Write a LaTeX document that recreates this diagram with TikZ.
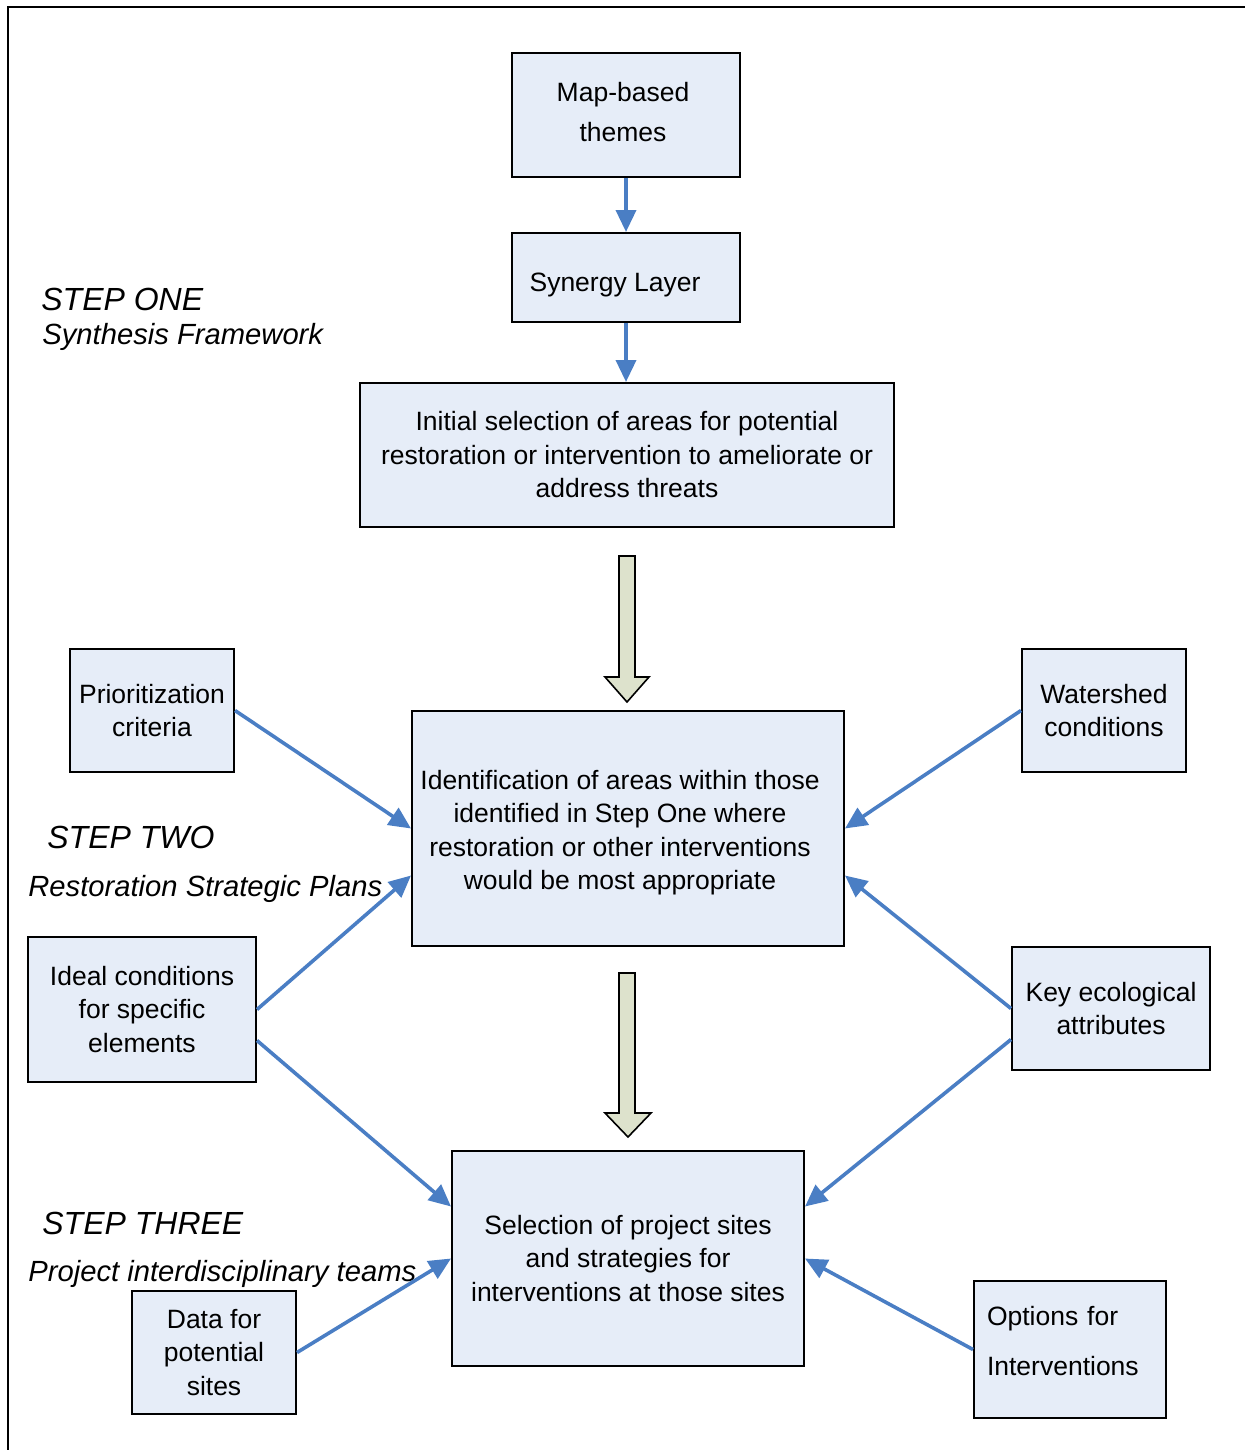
\documentclass[tikz,border=0pt]{standalone}
\usepackage{fontspec}
\setmainfont{Liberation Sans}
\usepackage{xcolor}
\usetikzlibrary{calc, arrows.meta}
\definecolor{boxfill}{RGB}{230,237,248}
\definecolor{linkblue}{RGB}{74,126,196}
\definecolor{bigfill}{RGB}{221,226,204}

\begin{document}
\begin{tikzpicture}[x=0.5pt, y=-0.5pt,
    box/.style={draw, line width=1pt, fill=boxfill, inner sep=0pt, align=center,
        font=\fontsize{13.25}{16.75}\selectfont},
    boxtext/.style={inner sep=0pt, align=center, font=\fontsize{13.25}{16.75}\selectfont},
    link/.style={draw=linkblue, line width=1.8pt, -{Triangle[length=11pt, width=10pt]}},
    steptitle/.style={anchor=base west, inner sep=0pt, font=\fontsize{16}{19}\selectfont\itshape},
    stepsub/.style={anchor=base west, inner sep=0pt, font=\fontsize{14.6}{18}\selectfont\itshape},
    bigarrow/.style={draw, line width=0.8pt, fill=bigfill, line join=miter}]

            \useasboundingbox (0,0) rectangle (1245,1450);
            \draw[line width=1pt] (8,1450) -- (8,7) -- (1245,7);

            % step one
            \node[box, minimum width=114pt, minimum height=62pt] (map) at (626,115) {};
            \node[boxtext, font=\fontsize{13.25}{20}\selectfont] (map text) at ($(map)+(-3,-3)$) {Map-based\\themes};
            \node[box, minimum width=114pt, minimum height=44.5pt] (synergy) at (626,277.5) {};
            \node[boxtext] (synergy text) at ($(synergy)+(-11,7)$) {Synergy Layer};
            \node[box, minimum width=267pt, minimum height=72pt] (initial) at (627,455)
                {Initial selection of areas for potential\\restoration or intervention to ameliorate or\\address threats};

            \node[steptitle] (stepone) at (41,310) {STEP ONE};
            \node[stepsub] (stepone sub) at (42,344) {Synthesis Framework};

            \draw[link] (map.south) -- (synergy.north);
            \draw[link] (synergy.south) -- (synergy.south |- initial.north);

            \draw[bigarrow] (619,556) -- (635,556) -- (635,677) -- (649,677) -- (627,702)
                -- (605,677) -- (619,677) -- cycle;

            % step two
            \node[box, minimum width=216pt, minimum height=117.5pt] (ident) at (628,828.5) {};
            \node[boxtext] (ident text) at ($(ident)+(-8,4)$)
                {Identification of areas within those\\identified in Step One where\\restoration or other interventions\\would be most appropriate};
            \node[box, minimum width=82pt, minimum height=61.5pt] (prior) at (152,710.5) {Prioritization\\criteria};
            \node[box, minimum width=82pt, minimum height=61.5pt] (water) at (1104,710.5) {Watershed\\conditions};
            \node[box, minimum width=114pt, minimum height=72.5pt] (ideal) at (142,1009.5) {Ideal conditions\\for specific\\elements};
            \node[box, minimum width=99pt, minimum height=61.5pt] (keyeco) at (1111,1008.5) {Key ecological\\attributes};

            \node[steptitle] (steptwo) at (47,848) {STEP TWO};
            \node[stepsub] (steptwo sub) at (28,896) {Restoration Strategic Plans};

            \draw[link] (prior.east) -- (ident.west);
            \draw[link] (water.west) -- (ident.east);
            \draw[link] (ideal.east) -- ($(ident.west)+(0,47)$);
            \draw[link] (keyeco.west) -- ($(ident.east)+(0,47)$);

            \draw[bigarrow] (619,973) -- (635,973) -- (635,1113) -- (651,1113) -- (628,1137)
                -- (605,1113) -- (619,1113) -- cycle;

            % step three
            \node[box, minimum width=176pt, minimum height=107.5pt] (select) at (628,1258.5)
                {Selection of project sites\\and strategies for\\interventions at those sites};
            \node[box, minimum width=82pt, minimum height=61.5pt] (data) at (214,1352.5) {Data for\\potential\\sites};
            \node[box, minimum width=96pt, minimum height=68.5pt] (options) at (1070,1349.5) {};
            \node[boxtext, align=left, text width=83pt, font=\fontsize{13.25}{25}\selectfont]
                (options text) at ($(options)+(0,-8)$) {Options for\\Interventions};

            \node[steptitle] (stepthree) at (42,1234) {STEP THREE};
            \node[stepsub] (stepthree sub) at (28,1281) {Project interdisciplinary teams};

            \draw[link] ($(ideal.east)+(0,31)$) -- ($(select.west)+(0,-52)$);
            \draw[link] ($(keyeco.west)+(0,31)$) -- ($(select.east)+(0,-52)$);
            \draw[link] (data.east) -- (select.west);
            \draw[link] (options.west) -- (select.east);

        \end{tikzpicture}
\end{document}
